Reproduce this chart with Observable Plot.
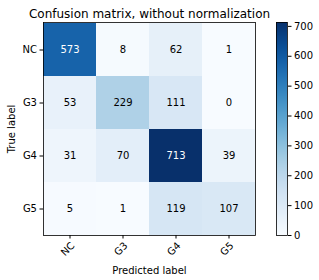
<!DOCTYPE html>
<html><head><meta charset="utf-8">
<script src="https://cdn.jsdelivr.net/npm/d3@7"></script>
<script src="https://cdn.jsdelivr.net/npm/@observablehq/plot@0.6"></script>
<style>
body{margin:0;background:#fff;}
#wrap{position:relative;width:319px;height:280px;font-family:"DejaVu Sans",sans-serif;}
#wrap svg{position:absolute;left:0;top:0;background:transparent;}
</style>
</head><body><div id="wrap"></div>
<script>
const classes = ["NC", "G3", "G4", "G5"];
const rowNC = [573, 8, 62, 1];
const rowG3 = [53, 229, 111, 0];
const rowG4 = [31, 70, 713, 39];
const rowG5 = [5, 1, 119, 107];
const colorTicks = [0, 100, 200, 300, 400, 500, 600, 700];
const title = "Confusion matrix, without normalization";

const rows = [rowNC, rowG3, rowG4, rowG5];
const table = [];
rows.forEach((r, i) => r.forEach((v, j) => table.push({truth: classes[i], pred: classes[j], value: v})));
const vmax = d3.max(table, d => d.value);
const thresh = vmax / 2;
const color = {type: "linear", interpolate: d3.interpolateBlues, domain: [0, vmax]};
const hasAxisMarks = typeof Plot.axisX === "function";

const xAxisMarks = hasAxisMarks ? [
  Plot.axisX({tickSize: 3.5, text: null, label: "Predicted label", labelAnchor: "center", labelOffset: 38}),
  Plot.axisX({tickSize: 0, tickPadding: 6.5, tickRotate: -45, label: null, dx: 3, dy: 2})
] : [];

const main = Plot.plot({
  width: 319, height: 280,
  marginLeft: 43, marginTop: 22, marginRight: 64, marginBottom: 45,
  style: {fontFamily: "DejaVu Sans, sans-serif", fontSize: "10px", color: "#000", background: "transparent"},
  x: hasAxisMarks
    ? {domain: classes, padding: 0}
    : {domain: classes, padding: 0, label: "Predicted label", labelAnchor: "center", labelOffset: 38, tickRotate: -45, tickSize: 3.5, tickPadding: 3},
  y: {domain: classes, padding: 0, label: "True label", labelAnchor: "center", labelOffset: 36, tickSize: 3.5, tickPadding: 3},
  color,
  marks: [
    Plot.cell(table, {x: "pred", y: "truth", fill: "value"}),
    Plot.text(table, {x: "pred", y: "truth", text: d => String(d.value), fill: d => d.value > thresh ? "white" : "black", fontSize: 10}),
    Plot.frame({stroke: "black", strokeWidth: 0.8}),
    ...xAxisMarks,
    Plot.text([title], {frameAnchor: "top", dy: -8.5, fontSize: 12, lineAnchor: "middle"})
  ]
});

const grad = d3.range(0, vmax, vmax / 213);
const bar = Plot.plot({
  width: 319, height: 280,
  marginLeft: 276, marginRight: 32, marginTop: 22, marginBottom: 45,
  style: {fontFamily: "DejaVu Sans, sans-serif", fontSize: "10px", color: "#000", background: "transparent"},
  x: {domain: [0, 1], axis: null},
  y: {domain: [0, vmax], axis: "right", ticks: colorTicks, tickFormat: d => String(d), label: null, tickSize: 3.5, tickPadding: 3},
  color,
  marks: [
    Plot.rect(grad, {x1: 0, x2: 1, y1: d => d, y2: d => Math.min(vmax, d + vmax / 213 * 1.5), fill: d => d}),
    Plot.frame({stroke: "black", strokeWidth: 0.8})
  ]
});
document.getElementById("wrap").append(main, bar);
</script>
</body></html>
